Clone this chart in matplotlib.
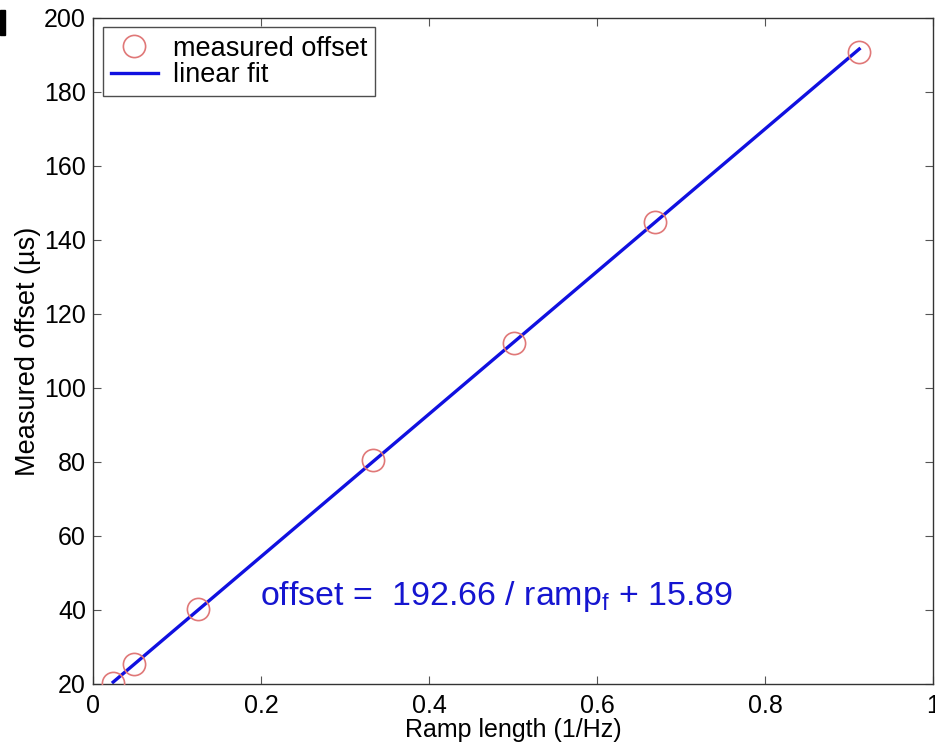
import numpy as np
import matplotlib
matplotlib.use('Agg')
import matplotlib.pyplot as plt
from matplotlib.patches import Rectangle

plt.rcParams['font.family'] = ['Liberation Sans', 'DejaVu Sans']
plt.rcParams['mathtext.fontset'] = 'custom'
plt.rcParams['mathtext.rm'] = 'Liberation Sans'
plt.rcParams['mathtext.it'] = 'Liberation Sans'

# ramp length (1/Hz) and measured offset (us)
ramp_length = [0.024, 0.049, 0.125, 0.333, 0.501, 0.669, 0.912]
offset = [20.3, 25.4, 40.3, 80.5, 112.2, 144.9, 190.8]
slope = 192.66
intercept = 15.89

fig = plt.figure(figsize=(9.35, 7.48), dpi=100)
ax = fig.add_axes([0.0995, 0.0856, 0.8985, 0.8904])

ax.plot(ramp_length, offset, 'o', mfc='none', mec='#e07878', mew=1.2,
        markersize=16, label='measured offset', zorder=3)
xfit = np.array([ramp_length[0], ramp_length[-1]])
ax.plot(xfit, slope * xfit + intercept, '-', color='#1010e0', lw=2.4,
        label='linear fit', zorder=2)

ax.text(0.199, 41.3, r'offset =  192.66 / ramp$_\mathregular{f}$ + 15.89',
        color='#1515d0', fontsize=24.5, va='baseline', ha='left')

ax.set_xlim(0, 1)
ax.set_ylim(20, 200)
ax.set_xticks([0, 0.2, 0.4, 0.6, 0.8, 1])
ax.set_xticklabels(['0', '0.2', '0.4', '0.6', '0.8', '1'])
ax.set_yticks(np.arange(20, 201, 20))
ax.tick_params(direction='in', length=6, width=0.8, labelsize=18,
               top=True, right=True, color='#555555')
ax.tick_params(axis='x', pad=7)
ax.tick_params(axis='y', pad=5)
for s in ax.spines.values():
    s.set_linewidth(1.0)
    s.set_color('#333333')

ax.set_xlabel('Ramp length (1/Hz)', fontsize=18, labelpad=0)
ax.set_ylabel('Measured offset (\u00b5s)', fontsize=19.5, labelpad=2)

leg = ax.legend(loc='upper left', fontsize=19.5, frameon=True, fancybox=False,
                edgecolor='#222222', borderaxespad=0.35, handlelength=1.75,
                borderpad=0.3, labelspacing=0.02, handletextpad=0.55)
leg.get_frame().set_linewidth(1.0)

# black mark at the top-left corner of the picture
fig.patches.append(Rectangle((0, 1 - 35 / 748), 5 / 935, 25 / 748,
                             transform=fig.transFigure, color='black'))

fig.savefig('out.png', dpi=100)
